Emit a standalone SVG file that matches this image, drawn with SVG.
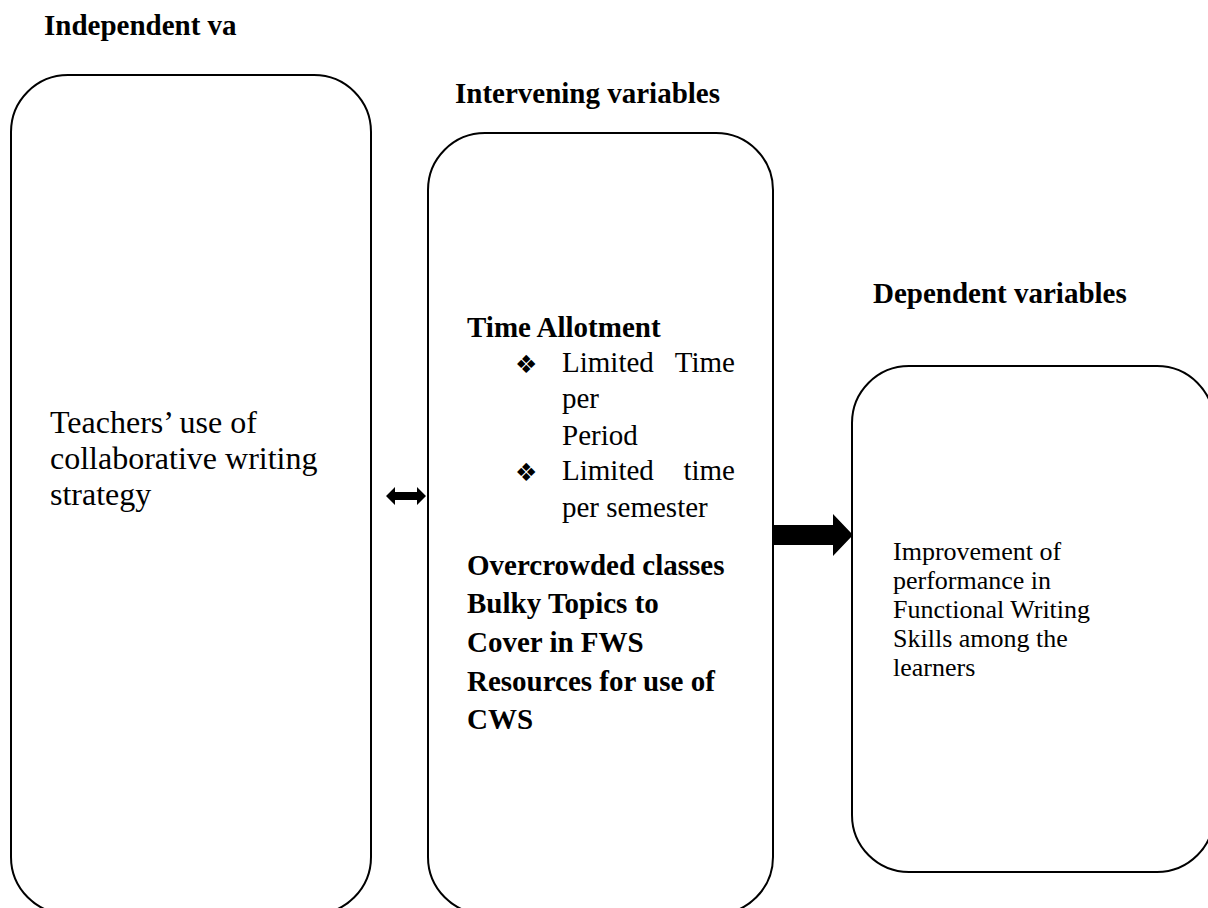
<svg xmlns="http://www.w3.org/2000/svg" width="1208" height="908" viewBox="0 0 1208 908">
<style>
.box{fill:#fff;stroke:#000;stroke-width:2}
.h{font-family:"Liberation Serif","Times New Roman",serif;font-weight:bold;font-size:29px;fill:#000}
.r{font-family:"Liberation Serif","Times New Roman",serif;font-size:29px;fill:#000}
.r3{font-family:"Liberation Serif","Times New Roman",serif;font-size:26px;fill:#000}
.r1{font-family:"Liberation Serif","Times New Roman",serif;font-size:32px;fill:#000}
.b{font-family:"DejaVu Sans",sans-serif;font-size:25px;fill:#000}
.arr{fill:#000}
</style>
<rect width="1208" height="908" fill="#fff"/>
<text class="h" x="44" y="35">Independent va</text>
<text class="h" x="455" y="103">Intervening variables</text>
<text class="h" x="873" y="303">Dependent variables</text>
<g id="independent">
<rect class="box" x="11" y="75" width="360" height="839" rx="57" ry="57"/>
<text class="r1" x="50" y="433">Teachers’ use of</text>
<text class="r1" x="50" y="469">collaborative writing</text>
<text class="r1" x="50" y="505">strategy</text>
</g>
<g id="intervening">
<rect class="box" x="428" y="133" width="345" height="781" rx="57" ry="57"/>
<text class="h" x="467" y="337">Time Allotment</text>
<text class="b" x="515" y="373">❖</text>
<text class="r" x="562" y="372">Limited</text>
<text class="r" x="735" y="372" text-anchor="end">Time</text>
<text class="r" x="562" y="408">per</text>
<text class="r" x="562" y="445">Period</text>
<text class="b" x="515" y="481">❖</text>
<text class="r" x="562" y="480">Limited</text>
<text class="r" x="735" y="480" text-anchor="end">time</text>
<text class="r" x="562" y="517">per semester</text>
<text class="h" x="467" y="575">Overcrowded classes</text>
<text class="h" x="467" y="613">Bulky Topics to</text>
<text class="h" x="467" y="652">Cover in FWS</text>
<text class="h" x="467" y="691">Resources for use of</text>
<text class="h" x="467" y="729">CWS</text>
</g>
<g id="dependent">
<rect class="box" x="852" y="366" width="362" height="506" rx="57" ry="57"/>
<text class="r3" x="893" y="560">Improvement of</text>
<text class="r3" x="893" y="589">performance in</text>
<text class="r3" x="893" y="618">Functional Writing</text>
<text class="r3" x="893" y="647">Skills among the</text>
<text class="r3" x="893" y="676">learners</text>
</g>
<g id="connectors">
<polygon class="arr" points="386,496 395,487 395,492 417,492 417,487 426,496 417,505 417,500 395,500 395,505"/>
<polygon class="arr" points="773,525 833,525 833,514 853,535 833,556 833,545 773,545"/>
</g>
</svg>
